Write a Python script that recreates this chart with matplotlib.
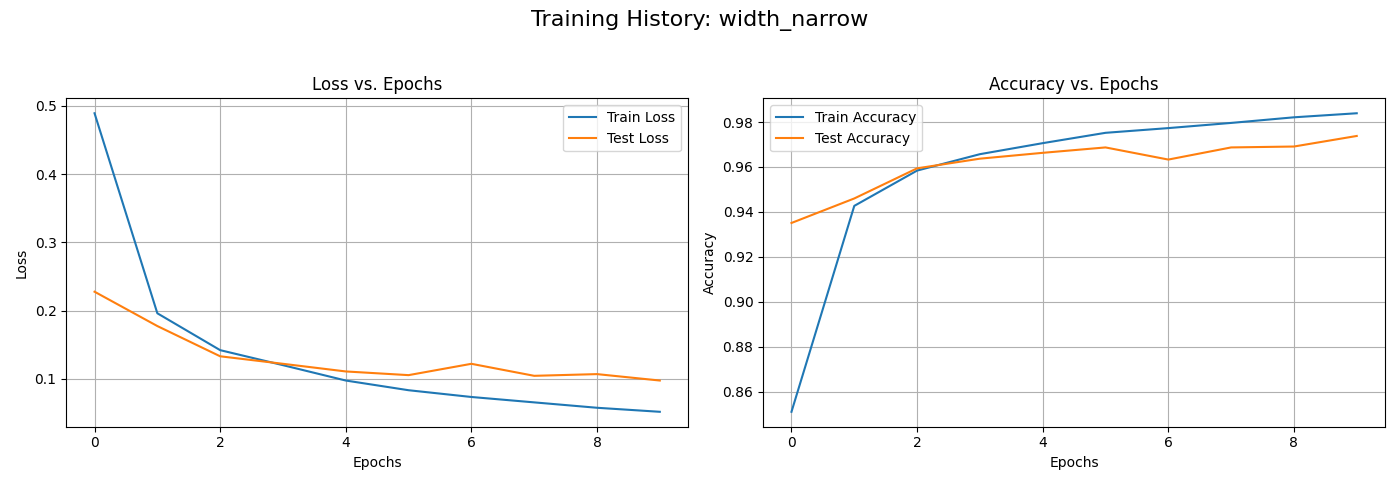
import matplotlib
matplotlib.use('Agg')
import matplotlib.pyplot as plt

run_name = 'width_narrow'
epochs = list(range(10))

train_loss = [0.489, 0.196, 0.142, 0.120, 0.0975, 0.0833, 0.0734, 0.0655, 0.0576, 0.0517]
test_loss = [0.2276, 0.1773, 0.133, 0.122, 0.1108, 0.1054, 0.122, 0.1044, 0.1069, 0.0975]

train_acc = [0.8511, 0.9427, 0.9584, 0.9657, 0.9706, 0.9752, 0.9773, 0.9796, 0.9821, 0.9839]
test_acc = [0.9351, 0.9460, 0.9594, 0.9637, 0.9663, 0.9687, 0.9633, 0.9687, 0.9691, 0.9738]

fig, (ax1, ax2) = plt.subplots(1, 2, figsize=(14, 5))
fig.suptitle(f'Training History: {run_name}', fontsize=16)

ax1.plot(epochs, train_loss, label='Train Loss')
ax1.plot(epochs, test_loss, label='Test Loss')
ax1.set_title('Loss vs. Epochs')
ax1.set_xlabel('Epochs')
ax1.set_ylabel('Loss')
ax1.legend()
ax1.grid(True)

ax2.plot(epochs, train_acc, label='Train Accuracy')
ax2.plot(epochs, test_acc, label='Test Accuracy')
ax2.set_title('Accuracy vs. Epochs')
ax2.set_xlabel('Epochs')
ax2.set_ylabel('Accuracy')
ax2.legend()
ax2.grid(True)

plt.tight_layout(rect=[0, 0.03, 1, 0.95])
plt.savefig('out.png', dpi=100)
